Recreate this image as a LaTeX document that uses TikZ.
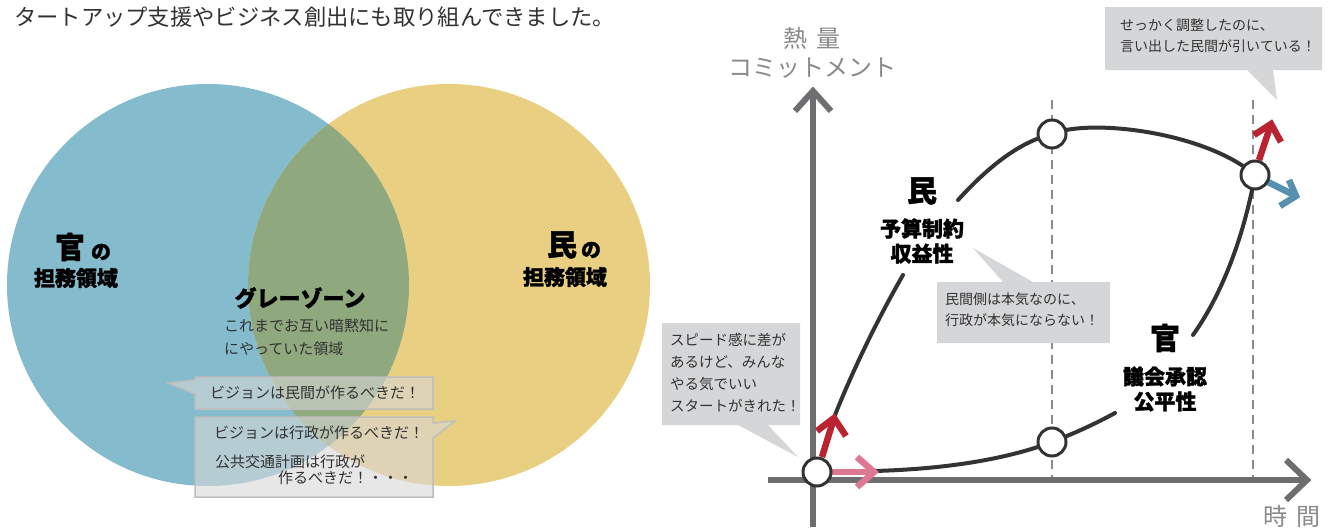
\documentclass[tikz,border=0pt]{standalone}
\usepackage{fontspec}
\setmainfont{Noto Sans CJK JP}
\newfontfamily\heavyjp[BoldFeatures={FakeBold=1.3}]{Noto Sans CJK JP}
\begin{document}
\begin{tikzpicture}[x=1pt,y=-1pt]
\definecolor{vblue}{RGB}{132,188,206}
\definecolor{vyellow}{RGB}{233,207,130}
\definecolor{vgreen}{RGB}{143,168,126}
\definecolor{axisgray}{RGB}{110,110,112}
\definecolor{curvedark}{RGB}{51,51,51}
\definecolor{calloutgray}{RGB}{213,214,216}
\definecolor{boxgray}{RGB}{215,215,215}
\definecolor{boxedge}{RGB}{190,190,190}
\definecolor{arrowred}{RGB}{186,35,48}
\definecolor{arrowpink}{RGB}{222,120,146}
\definecolor{arrowblue}{RGB}{88,145,176}
\definecolor{labelgray}{RGB}{138,138,140}
\definecolor{textdark}{RGB}{50,50,50}
\tikzset{
  bigkanji/.style={font=\heavyjp\bfseries\fontsize{30}{32}\selectfont, text=black, inner sep=0pt},
  smallno/.style={font=\heavyjp\bfseries\fontsize{20}{22}\selectfont, text=black, inner sep=0pt},
  boldlabel/.style={font=\heavyjp\bfseries\fontsize{21}{25}\selectfont, text=black, inner sep=0pt, align=center},
  bodytext/.style={font=\fontsize{15}{23}\selectfont, text=textdark, inner sep=0pt, align=left},
  callouttext/.style={font=\fontsize{14}{21}\selectfont, text=textdark, inner sep=0pt, align=left},
  axislabel/.style={font=\fontsize{24}{28}\selectfont, text=labelgray, inner sep=0pt},
  vennbox/.style={fill=boxgray, fill opacity=0.6, draw=boxedge, draw opacity=1, line width=1.5pt},
  graybubble/.style={fill=calloutgray},
  axisline/.style={draw=axisgray, line width=6pt, line cap=butt, line join=miter},
  guide/.style={draw=labelgray, line width=1.5pt, dash pattern=on 9pt off 6pt},
  curveline/.style={draw=curvedark, line width=4pt, line cap=round},
  fatarrow/.style={line width=6.5pt, line cap=butt, line join=miter},
  ring/.style={circle, draw=curvedark, fill=white, line width=3pt, minimum size=28pt, inner sep=0pt}
}
\useasboundingbox (0,0) rectangle (1334,530);
\fill[white] (0,0) rectangle (1334,530);

% heading
\node[anchor=west, font=\fontsize{22.3}{26}\selectfont, text=textdark, inner sep=0pt] (head) at (14,17) {タートアップ支援やビジネス創出にも取り組んできました。};

% ---------- Venn ----------
\fill[vblue] (208,285) circle[radius=201pt];
\fill[vyellow] (449,285) circle[radius=201pt];
\begin{scope}
  \clip (208,285) circle[radius=201pt];
  \fill[vgreen] (449,285) circle[radius=201pt];
\end{scope}

\node[bigkanji] (kan) at (70,247) {官};
\node[smallno] (kanno) at (101,252) {の};
\node[boldlabel] (kanarea) at (76,278) {担務領域};
\node[bigkanji] (min) at (562,245) {民};
\node[smallno] (minno) at (591,250) {の};
\node[boldlabel] (minarea) at (565,277) {担務領域};

\node[boldlabel, font=\heavyjp\bfseries\fontsize{22}{26}\selectfont] (gray) at (300,298) {グレーゾーン};
\node[bodytext, anchor=north west] (grayd) at (224,319) {これまでお互い暗黙知に\\にやっていた領域};

\path[vennbox] (195,377) -- (433,377) -- (433,409) -- (195,409) -- (195,394) -- (168,383) -- (195,380) -- cycle;
\path[vennbox] (195,417) -- (433,417) -- (433,423) -- (455,421) -- (433,438) -- (433,497) -- (195,497) -- cycle;
\node[bodytext] (b1) at (315,393) {ビジョンは民間が作るべきだ！};
\node[bodytext] (b2) at (319,433) {ビジョンは行政が作るべきだ！};
\node[bodytext, anchor=west] (b3) at (215,462) {公共交通計画は行政が};
\node[bodytext, anchor=west] (b4) at (278,478) {作るべきだ！・・・};

% ---------- Graph ----------
\path[guide] (1052,100) -- (1052,480);
\path[guide] (1253,100) -- (1253,480);

\coordinate (vbot) at (813,527);
\coordinate (vtop) at (813,91);
\coordinate (hleft) at (768,480);
\coordinate (hright) at (1307,480);
\path[axisline] (vbot) -- (vtop);
\path[axisline] (795,111) -- (vtop) -- (831,111);
\path[axisline] (hleft) -- (hright);
\path[axisline] (1286,460) -- (hright) -- (1286,500);

\node[axislabel] (ax1) at (812,38) {熱\kern9pt 量};
\node[axislabel] (ax2) at (812,68) {コミットメント};
\node[axislabel] (ax3) at (1292,516) {時\kern9pt 間};

% curves
\coordinate (o) at (817,472);
\coordinate (ptop) at (1052,134);
\coordinate (pright) at (1255,175);
\coordinate (plow) at (1052,442);
\path[curveline] (835,415) .. controls (855,365) and (880,315) .. (903,275);
\path[curveline] (958,200) .. controls (990,165) and (1020,142) .. (ptop)
   .. controls (1090,118) and (1205,132) .. (pright);
\path[curveline] (874,471) .. controls (950,469) and (1010,458) .. (plow)
   .. controls (1075,433) and (1095,424) .. (1115,413);
\path[curveline] (1193,335) .. controls (1225,290) and (1245,230) .. (pright);

% arrows
\path[fatarrow, draw=arrowred] (822,457) -- (834,418);
\path[fatarrow, draw=arrowred] (817,431) -- (834,418) -- (846,436);
\path[fatarrow, draw=arrowpink] (832,472) -- (874,472);
\path[fatarrow, draw=arrowpink] (857,457) -- (874,472) -- (857,487);
\path[fatarrow, draw=arrowred] (1259,160) -- (1271,124);
\path[fatarrow, draw=arrowred] (1254,135) -- (1271,124) -- (1281,142);
\path[fatarrow, draw=arrowblue] (1268,182) -- (1296,196);
\path[fatarrow, draw=arrowblue] (1289,180) -- (1296,196) -- (1280,206);

\node[ring] (c0) at (o) {};
\node[ring] (c1) at (ptop) {};
\node[ring] (c2) at (pright) {};
\node[ring] (c3) at (plow) {};

% labels
\node[bigkanji] (gmin) at (922,191) {民};
\node[boldlabel] (gmind) at (922,241) {予算制約\\収益性};
\node[bigkanji] (gkan) at (1165,338) {官};
\node[boldlabel] (gkand) at (1165,389) {議会承認\\公平性};

% callouts
\path[graybubble] (662,323) -- (800,323) -- (800,425) -- (768,425) -- (798,457) -- (738,425) -- (662,425) -- cycle;
\node[callouttext, anchor=north west, font=\fontsize{14.5}{22}\selectfont] (t1) at (670,333) {スピード感に差が\\あるけど、みんな\\やる気でいい\\スタートがきれた！};
\path[graybubble] (937,282) -- (1003,282) -- (973,248) -- (1033,282) -- (1110,282) -- (1110,343) -- (937,343) -- cycle;
\node[callouttext, anchor=north west] (t2) at (945,293) {民間側は本気なのに、\\行政が本気にならない！};
\path[graybubble] (1105,7) -- (1322,7) -- (1322,70) -- (1273,70) -- (1277,100) -- (1247,70) -- (1105,70) -- cycle;
\node[callouttext, anchor=north west] (t3) at (1120,19) {せっかく調整したのに、\\言い出した民間が引いている！};
\end{tikzpicture}
\end{document}
